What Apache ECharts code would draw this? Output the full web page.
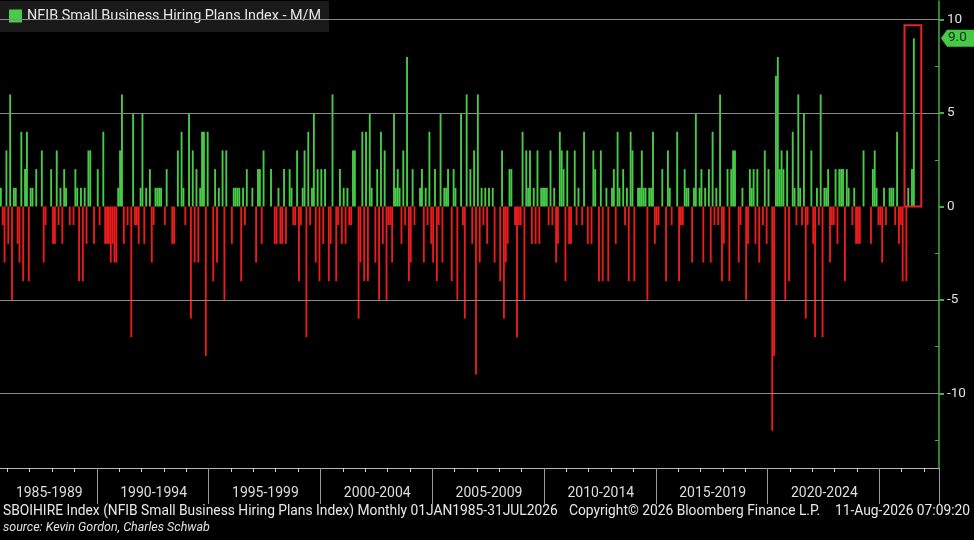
<!DOCTYPE html>
<html><head><meta charset="utf-8">
<script src="https://cdn.jsdelivr.net/npm/echarts@6/dist/echarts.min.js"></script>
<style>html,body{margin:0;padding:0;background:#000;}#c{width:974px;height:540px;}</style>
</head><body><div id="c"></div>
<script>
// ---------- data (monthly M/M change) ----------
const seriesName = 'NFIB Small Business Hiring Plans Index - M/M';
const firstMonth = '1985-01';
const axisLastMonth = '2027-08';
const m1985_1989 = [
  null,null,null,null,null,null,null,-1,1,-1,-3,3,
  -2,6,-5,1,1,-2,-3,4,-4,2,4,-4,
  1,1,0,2,0,0,3,-3,-1,0,0,2,
  -2,-2,3,-1,1,-2,2,1,0,-1,0,-1,
  2,1,-4,1,-4,1,-2,3,3,0,-2,0
];
const m1990_1994 = [
  2,-1,0,4,-2,-2,-2,-3,-2,-3,-3,1,
  3,6,-2,0,-1,0,-7,5,-1,-1,-2,1,
  5,-2,1,0,2,-3,-1,1,1,1,1,0,
  -1,2,0,0,-2,-2,0,3,0,4,1,-1,
  0,5,-6,3,-3,2,-3,1,4,4,-8,4
];
const m1995_1999 = [
  0,0,-4,2,-3,1,0,3,-5,3,0,0,
  -2,1,1,1,1,-4,1,-1,2,0,0,1,
  0,-3,2,2,-2,3,0,0,0,2,0,-2,
  -2,1,-2,-2,2,-2,0,2,1,-1,-1,3,
  -4,-1,1,3,-7,4,-1,1,5,-3,2,-4
];
const m2000_2004 = [
  2,-2,2,0,-4,-2,6,0,-4,-1,2,-2,
  1,-2,1,-1,-1,3,3,0,-6,-3,4,-4,
  4,-4,5,1,0,-3,2,-5,4,-2,3,-5,
  -1,-1,-3,5,1,2,1,-2,3,-1,8,-4,
  -3,2,-1,0,0,1,2,-3,1,-1,4,-2
];
const m2005_2009 = [
  -3,2,-4,-1,5,-3,1,1,2,0,-4,2,
  1,-5,0,5,-1,-6,6,0,2,-2,3,-9,
  6,-3,1,-1,1,-2,1,0,1,-3,0,0,
  -4,3,-6,-3,-2,2,2,0,-1,-7,-1,-1,
  4,-5,3,1,3,-2,1,-2,3,-2,1,1
];
const m2010_2014 = [
  1,1,-1,3,-1,1,-3,-2,4,3,2,-4,
  3,-2,-2,0,3,-1,1,0,-1,4,0,-2,
  0,-2,3,2,0,-4,3,-4,0,1,-4,0,
  1,2,-2,4,1,0,2,-1,1,-4,4,3,
  -4,0,1,1,3,1,1,-5,1,1,4,-2
];
const m2015_2019 = [
  -1,-1,0,2,0,-4,3,1,-1,0,0,4,
  -4,-1,-1,2,1,1,0,-3,1,5,0,1,
  2,-3,1,0,2,-3,4,-1,1,-1,6,-4,
  -2,0,2,-4,2,3,3,0,-3,-1,1,0,
  -5,-2,2,1,2,-2,2,-3,0,-1,3,-2
];
const m2020_2024 = [
  2,0,-12,-8,7,8,2,3,2,-5,3,-4,
  0,4,1,-1,6,1,-1,5,-6,-1,0,3,
  -2,-7,1,-1,6,-7,1,1,2,-3,-1,-1,
  2,-2,2,2,2,-4,2,1,0,-1,1,-2,
  -2,-2,0,3,0,0,0,-2,2,3,1,-1
];
const m2025_2026 = [
  -1,-3,1,-1,0,1,1,1,-1,4,-2,-1,
  -4,0,-4,1,0,2,9
];
const blockLabels = ['1985-1989','1990-1994','1995-1999','2000-2004','2005-2009','2010-2014','2015-2019','2020-2024'];
const yMajorTicks = [-10,-5,0,5,10];
const yMinorTicks = [-12.5,-7.5,-2.5,2.5,7.5];
const gridLineValues = [10,5,-5,-10];
const highlightMonths = ['2026-02','2026-11'];
const highlightTop = 9.7;
const footerLine = 'SBOIHIRE Index (NFIB Small Business Hiring Plans Index) Monthly 01JAN1985-31JUL2026';
const copyrightText = 'Copyright\u00A9 2026 Bloomberg Finance L.P.';
const stampText = '11-Aug-2026 07:09:20';
const sourceText = 'source: Kevin Gordon, Charles Schwab';

// ---------- build ----------
const monthLabels = [];
(function(){
  let y = +firstMonth.slice(0,4), m = +firstMonth.slice(5,7);
  while (true) {
    const s = y + '-' + String(m).padStart(2,'0');
    monthLabels.push(s);
    if (s === axisLastMonth) break;
    m++; if (m > 12) { m = 1; y++; }
  }
})();
const raw = [].concat(m1985_1989,m1990_1994,m1995_1999,m2000_2004,m2005_2009,m2010_2014,m2015_2019,m2020_2024,m2025_2026);
const lastIndex = raw.length - 1;
const values = monthLabels.map((_, i) => i < raw.length ? raw[i] : null);

const GREEN = '#48cc48', RED = '#ec1c1c', AXISGREEN = '#3fae3f';
const FONT = 'Roboto';

// label position in each 5-year block (first block is centred in its visible part)
const labelIndex = (i) => (i === 34) || (i >= 60 && i % 60 === 30 && Math.floor(i / 60) < blockLabels.length);

const chart = echarts.init(document.getElementById('c'), null, {renderer:'canvas', width:974, height:540});
const option = {
  backgroundColor: '#000',
  animation: false,
  textStyle: {fontFamily: FONT},
  grid: {left: -15, right: 35, top: 1, bottom: 72, outerBoundsMode: 'none'},
  legend: {
    left: 0, top: 1, selectedMode: false, icon: 'rect',
    data: [{name: seriesName, itemStyle: {color: GREEN}}],
    backgroundColor: '#1a1a1a', padding: [8, 8, 9, 9],
    itemWidth: 13, itemHeight: 13, itemGap: 5,
    textStyle: {color: '#e6e6e6', fontSize: 14.4, fontFamily: FONT}
  },
  xAxis: [
    {type: 'category', data: monthLabels, boundaryGap: true, position: 'bottom', offset: 0,
     axisLine: {show: true, onZero: false, lineStyle: {color: '#b4b4b4', width: 1}},
     axisTick: {show: true, interval: (i) => i % 12 === 0, length: 4, lineStyle: {color: '#cfcfcf'}},
     axisLabel: {show: false}, splitLine: {show: false}},
    {type: 'category', data: monthLabels, boundaryGap: true, position: 'bottom', offset: 0,
     axisLine: {show: false, onZero: false},
     axisTick: {show: true, interval: (i) => i % 60 === 0, length: 36, lineStyle: {color: '#9a9a9a'}},
     axisLabel: {show: true, interval: labelIndex,
       formatter: (v, i) => blockLabels[Math.floor(i / 60)] || '',
       color: '#dedede', fontSize: 14, margin: 18, fontFamily: FONT},
     splitLine: {show: false}}
  ],
  yAxis: [
    {type: 'value', position: 'right', min: -14, max: 11, offset: 0,
     axisLine: {show: true, lineStyle: {color: AXISGREEN, width: 1.5}},
     axisTick: {show: true, customValues: yMajorTicks, length: 5, lineStyle: {color: AXISGREEN, width: 2}},
     axisLabel: {show: true, customValues: yMajorTicks, color: '#e0e0e0', fontSize: 13.5, margin: 8, fontFamily: FONT},
     splitLine: {show: false}},
    {type: 'value', position: 'right', min: -14, max: 11, offset: 0,
     axisLine: {show: false},
     axisTick: {show: true, inside: true, customValues: yMinorTicks, length: 4, lineStyle: {color: AXISGREEN}},
     axisLabel: {show: false}, splitLine: {show: false}}
  ],
  series: [
    {name: '__grid', type: 'line', data: [], z: 1, silent: true,
     markLine: {silent: true, symbol: 'none', label: {show: false},
       lineStyle: {color: '#8a8a8a', width: 1, type: 'solid'},
       data: gridLineValues.map(v => ({yAxis: v}))}},
    {name: seriesName, type: 'bar', data: values, barCategoryGap: '0%', z: 3,
     itemStyle: {color: (p) => (p.value >= 0 ? GREEN : RED)}}
  ],
  graphic: [
    {type: 'text', left: 3, top: 505, style: {text: footerLine, fill: '#e8e8e8', font: '13.8px ' + FONT}},
    {type: 'text', left: 569, top: 505, style: {text: copyrightText, fill: '#e8e8e8', font: '13.8px ' + FONT}},
    {type: 'text', left: 835, top: 505, style: {text: stampText, fill: '#e8e8e8', font: '13.8px ' + FONT}},
    {type: 'text', left: 3, top: 521, style: {text: sourceText, fill: '#e0e0e0', font: 'italic 12.5px ' + FONT}}
  ]
};
chart.setOption(option);

// highlight box and last-value tag, positioned through the axes
const bx1 = chart.convertToPixel({xAxisIndex: 0}, highlightMonths[0]);
const bx2 = chart.convertToPixel({xAxisIndex: 0}, highlightMonths[1]);
const by1 = chart.convertToPixel({yAxisIndex: 0}, highlightTop);
const by0 = chart.convertToPixel({yAxisIndex: 0}, 0);
const lastVal = raw[lastIndex];
const ty = chart.convertToPixel({yAxisIndex: 0}, lastVal);
const axisX = 974 - 35;
chart.setOption({
  graphic: option.graphic.concat([
    {type: 'rect', z: 10, shape: {x: bx1, y: by1, width: bx2 - bx1, height: by0 - by1},
     style: {fill: 'none', stroke: '#e0262c', lineWidth: 2}},
    {type: 'polygon', z: 10, shape: {points: [[axisX + 2, ty], [axisX + 8, ty - 8.5], [974, ty - 8.5], [974, ty + 8.5], [axisX + 8, ty + 8.5]]},
     style: {fill: '#47c947'}},
    {type: 'text', z: 11, left: axisX + 9, top: ty - 8, style: {text: lastVal.toFixed(1), fill: '#0b2a0b', font: '13.5px ' + FONT}}
  ])
});
</script></body></html>
